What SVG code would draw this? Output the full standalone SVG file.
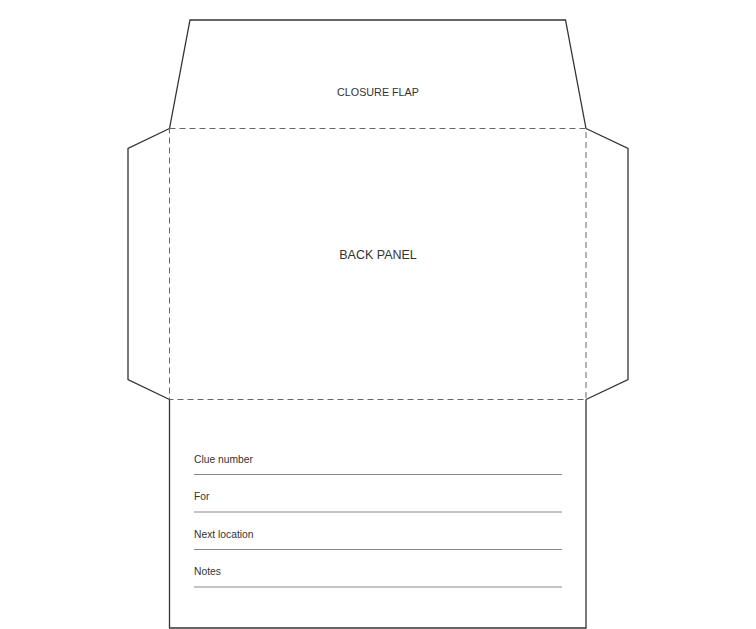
<svg xmlns="http://www.w3.org/2000/svg" width="756" height="629" viewBox="0 0 756 629">
<style>
.cut{fill:none;stroke:#333;stroke-width:1.3;stroke-linejoin:miter}
.fold{fill:none;stroke:#666;stroke-width:1;stroke-dasharray:6 4}
.rule{stroke:#888;stroke-width:1}
.lbl{font-family:"Liberation Sans",Arial,sans-serif;fill:#333}
.f{font-size:10.3px}
</style>
<rect width="756" height="629" fill="#fff"/>
<g id="closure-flap">
<polyline class="cut" points="169.5,128.5 190,20 565.5,20 586,128.5"/>
<text class="lbl" x="378" y="95.5" font-size="10.75" text-anchor="middle">CLOSURE FLAP</text>
</g>
<g id="left-flap">
<polyline class="cut" points="169.5,128.5 128,148.5 128,379.5 169.5,399.5"/>
</g>
<g id="right-flap">
<polyline class="cut" points="586,128.5 628,148.5 628,379.5 586,399.5"/>
</g>
<g id="back-panel">
<rect class="fold" x="169.5" y="128.5" width="416.5" height="271"/>
<text class="lbl" x="378" y="259" font-size="12.5" text-anchor="middle">BACK PANEL</text>
</g>
<g id="front-panel">
<polyline class="cut" points="169.5,399.5 169.5,628 586,628 586,399.5"/>
<text class="lbl f" x="194" y="462.5">Clue number</text>
<line class="rule" x1="194" y1="474.5" x2="562" y2="474.5"/>
<text class="lbl f" x="194" y="500">For</text>
<line class="rule" x1="194" y1="512" x2="562" y2="512"/>
<text class="lbl f" x="194" y="537.5">Next location</text>
<line class="rule" x1="194" y1="549.5" x2="562" y2="549.5"/>
<text class="lbl f" x="194" y="575">Notes</text>
<line class="rule" x1="194" y1="587" x2="562" y2="587"/>
</g>
</svg>
